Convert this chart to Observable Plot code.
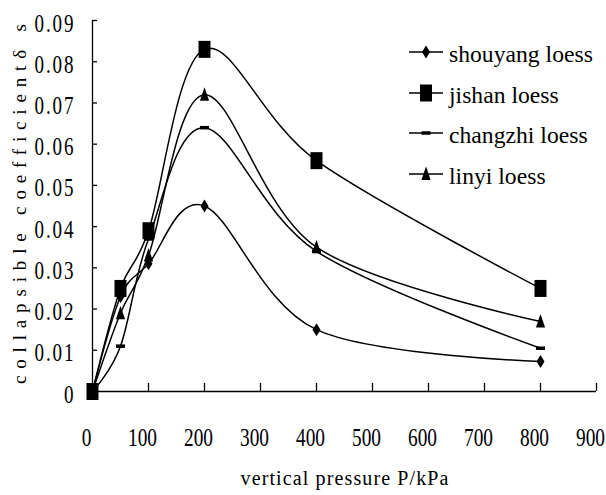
<!DOCTYPE html>
<html><head><meta charset="utf-8">
<script src="https://cdn.jsdelivr.net/npm/d3@7"></script>
<script src="https://cdn.jsdelivr.net/npm/@observablehq/plot@0.6"></script>
<style>
html,body{margin:0;padding:0;background:#fff;}
#wrap{position:relative;width:606px;height:495px;overflow:hidden;}
#wrap svg{position:absolute;left:0;top:0;}
#wrap svg text{font-family:"Liberation Serif","DejaVu Serif",serif !important;}
</style></head><body><div id="wrap"></div>
<script>
// ---- data ----
const pressure = [0, 50, 100, 200, 400, 800];
const shouyang = [0, 0.023, 0.031, 0.045, 0.015, 0.0073];
const jishan   = [0, 0.025, 0.039, 0.083, 0.056, 0.025];
const changzhi = [0, 0.011, 0.037, 0.064, 0.034, 0.0105];
const linyi    = [0, 0.019, 0.033, 0.072, 0.035, 0.017];
const seriesNames = ["shouyang loess", "jishan loess", "changzhi loess", "linyi loess"];
const xTicks = [0, 100, 200, 300, 400, 500, 600, 700, 800, 900];
const xTickLabels = ["0", "100", "200", "300", "400", "500", "600", "700", "800", "900"];
const yTicks = [0, 0.01, 0.02, 0.03, 0.04, 0.05, 0.06, 0.07, 0.08, 0.09];
const yTickLabels = ["0", "0.01", "0.02", "0.03", "0.04", "0.05", "0.06", "0.07", "0.08", "0.09"];
const xTitle = "vertical pressure P/kPa";
const yTitle = "collapsible coefficientδ s";

// ---- marker shapes ----
const rectSym = (w, h) => ({draw(c) { c.rect(-w / 2, -h / 2, w, h); }});
const diamondSym = {draw(c) { c.moveTo(0, -6.5); c.lineTo(4, 0); c.lineTo(0, 6.5); c.lineTo(-4, 0); c.closePath(); }};
const triSym = {draw(c) { c.moveTo(0, -7.5); c.lineTo(4.6, 6); c.lineTo(-4.6, 6); c.closePath(); }};
const symbols = [diamondSym, rectSym(12, 17), rectSym(9, 3.5), triSym];
const values = [shouyang, jishan, changzhi, linyi];

const series = seriesNames.map((name, k) => pressure.map((p, i) => ({series: name, p, v: values[k][i]})));
const curve = d3.curveCatmullRom.alpha(0);

const plot = Plot.plot({
  width: 606, height: 495,
  marginLeft: 92, marginRight: 10, marginTop: 20, marginBottom: 104,
  x: {domain: [0, 900], axis: null},
  y: {domain: [0, 0.09], axis: null},
  style: {fontSize: "20px", background: "white", color: "black"},
  marks: [
    Plot.ruleY([0], {stroke: "black", strokeWidth: 1.3}),
    Plot.ruleX([0], {stroke: "black", strokeWidth: 1.3}),
    Plot.ruleX(xTicks.slice(1), {x: d => d, y1: d => 0, y2: d => 0, insetTop: -8, stroke: "black", strokeWidth: 1.3}),
    Plot.ruleY(yTicks.slice(1), {y: d => d, x1: d => 0, x2: d => 0, insetRight: -5, stroke: "black", strokeWidth: 1.3}),
    Plot.text(yTicks, {x: d => 0, y: d => d, text: (d, i) => yTickLabels[i], textAnchor: "end", dx: -17, dy: 3, fontSize: 25, fill: "black"}),
    Plot.text(xTicks, {x: d => d, y: d => 0, text: (d, i) => xTickLabels[i], dx: -6, dy: 46, fontSize: 25, fill: "black"}),
    Plot.text([xTitle], {frameAnchor: "bottom", textAnchor: "middle", lineAnchor: "middle", text: d => d, dy: 87, fontSize: 20, fill: "black"}),
    Plot.text([yTitle], {frameAnchor: "left", textAnchor: "middle", lineAnchor: "middle", text: d => d, dx: -73, dy: -2, rotate: -90, fontSize: 19, fill: "black"}),
    ...series.map(s => Plot.line(s, {x: "p", y: "v", curve, stroke: "black", strokeWidth: 1.5})),
    ...series.map((s, k) => Plot.dot(s, {x: "p", y: "v", symbol: symbols[k], fill: "black", stroke: "none"}))
  ]
});
const wrap = document.getElementById("wrap");
wrap.appendChild(plot);

// ---- legend ----
const legendRows = [52, 93, 133, 174];
const leg = d3.create("svg").attr("width", 606).attr("height", 495).style("font-size", "23px");
seriesNames.forEach((name, k) => {
  const y = legendRows[k];
  leg.append("line").attr("x1", 409).attr("x2", 443).attr("y1", y).attr("y2", y).attr("stroke", "black").attr("stroke-width", 1.5);
  leg.append("path").attr("d", d3.symbol(symbols[k])()).attr("transform", `translate(426,${y})`).attr("fill", "black");
  leg.append("text").attr("x", 0).attr("y", 0).attr("transform", `translate(449,${y + 9.5})`)
    .attr("fill", "black").text(name);
});
wrap.appendChild(leg.node());

// condense glyphs horizontally like the original (tall narrow glyphs), measured against the original widths
function scaleText(el, sx, sy) {
  const x = +el.getAttribute("x") || 0, y = +el.getAttribute("y") || 0;
  const t = el.getAttribute("transform") || "";
  el.setAttribute("transform", `${t} translate(${x},${y}) scale(${sx},${sy}) translate(${-x},${-y})`);
}
const anchorOf = el => el.getAttribute("text-anchor") || (el.closest("[text-anchor]") || {getAttribute: () => ""}).getAttribute("text-anchor");
const texts = Array.from(plot.querySelectorAll("text"));
const yLabelEls = texts.filter(el => yTickLabels.includes(el.textContent) && anchorOf(el) === "end");
const xLabelEls = texts.filter(el => xTickLabels.includes(el.textContent) && anchorOf(el) !== "end");
yLabelEls.forEach(el => { el.style.letterSpacing = "2.5px"; });
const refX = xLabelEls.find(el => el.textContent === "100");
const xSx = refX ? Math.min(1, 29 / refX.getBBox().width) : 0.8;
const refY = yLabelEls.find(el => el.textContent === "0.09");
const ySx = refY ? Math.min(1, 41 / refY.getBBox().width) : 0.8;
yLabelEls.forEach(el => scaleText(el, ySx, 1));
xLabelEls.forEach(el => scaleText(el, xSx, 1));
texts.forEach(el => {
  const s = el.textContent;
  if (s === xTitle) { el.setAttribute("textLength", 208); el.setAttribute("lengthAdjust", "spacing"); }
  else if (s === yTitle) { el.setAttribute("textLength", 360); el.setAttribute("lengthAdjust", "spacing"); }
});
const legTexts = Array.from(leg.node().querySelectorAll("text"));
const legSx = 144 / legTexts[0].getBBox().width;
legTexts.forEach(el => {
  el.setAttribute("transform", el.getAttribute("transform") + ` scale(${Math.min(1.1, legSx)},1)`);
});
</script></body></html>
